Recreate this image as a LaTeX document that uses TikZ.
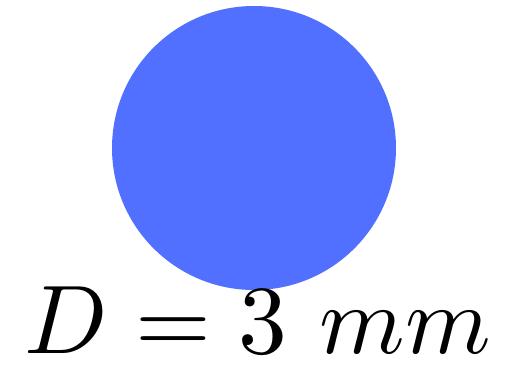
\documentclass[tikz,border=0pt]{standalone}
\definecolor{discblue}{RGB}{82,112,255}
\begin{document}
\begin{tikzpicture}[x=1pt,y=1pt,
  disc/.style={circle,fill=discblue,draw=none,minimum size=284pt,inner sep=0pt},
  label/.style={inner sep=0pt,scale=9.75}]
\useasboundingbox (0,0) rectangle (512,-366);
\node[disc] (c) at (254,-148) {};
\node[label,anchor=base west] (t) at (23,-354) {$D = 3\ mm$};
\end{tikzpicture}
\end{document}
